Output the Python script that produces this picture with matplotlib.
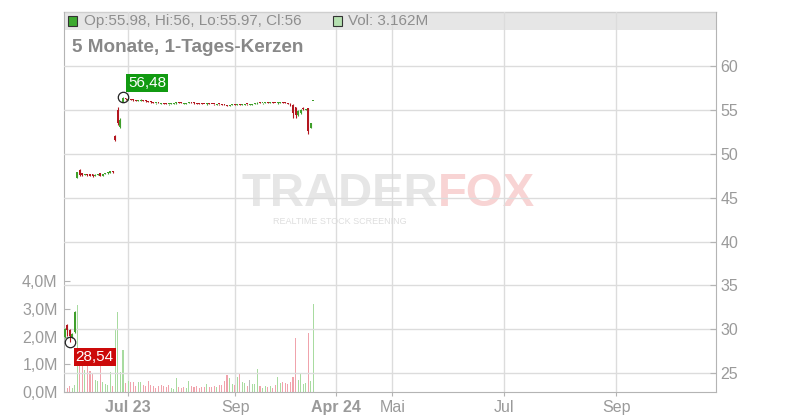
import matplotlib
matplotlib.use('Agg')
import matplotlib.pyplot as plt
from matplotlib.patches import Rectangle

plt.rcParams['font.family'] = ['Liberation Sans', 'DejaVu Sans']

# ---------------- data (daily candles, index = trading day) ----------------
opens = [
    29.10, 30.47, 29.90, 29.10, 29.70,
    47.30, 48.10, 47.80, 47.60, 47.70,
    47.70, 47.65, 47.50, 47.60, 47.80,
    47.50, 47.70, 47.80, 47.85, 48.00,
    52.00, 55.00, 53.10, 55.90, 56.30,
    56.18, 56.25, 56.20, 56.08, 56.02,
    56.05, 56.12, 56.08, 56.02, 55.95,
    55.88, 55.74, 55.85, 55.70, 55.80,
    55.76, 55.62, 55.66, 55.70, 55.74,
    55.88, 55.84, 55.70, 55.72, 55.76,
    55.88, 55.82, 55.78, 55.76, 55.74,
    55.70, 55.62, 55.72, 55.70, 55.68,
    55.60, 55.68, 55.66, 55.62, 55.58,
    55.48, 55.54, 55.63, 55.56, 55.66,
    55.56, 55.60, 55.68, 55.58, 55.60,
    55.64, 55.68, 55.84, 55.74, 55.78,
    55.86, 55.78, 55.86, 55.82, 55.74,
    55.82, 55.90, 55.86, 55.80, 55.70,
    55.60, 55.30, 54.40, 54.60, 55.25,
    55.00, 55.20, 52.95, 55.98]

closes = [
    30.10, 29.90, 29.20, 29.50, 32.00,
    47.90, 47.60, 47.55, 47.70, 47.55,
    47.50, 47.45, 47.60, 47.70, 47.50,
    47.70, 47.80, 47.90, 48.00, 47.90,
    51.60, 53.50, 53.90, 56.30, 56.20,
    56.25, 56.15, 56.10, 56.05, 56.10,
    56.15, 56.05, 56.00, 55.90, 55.85,
    55.82, 55.80, 55.78, 55.75, 55.72,
    55.70, 55.68, 55.72, 55.75, 55.85,
    55.80, 55.78, 55.75, 55.78, 55.85,
    55.80, 55.75, 55.72, 55.70, 55.68,
    55.65, 55.70, 55.67, 55.65, 55.62,
    55.65, 55.62, 55.60, 55.55, 55.50,
    55.55, 55.60, 55.57, 55.65, 55.58,
    55.62, 55.66, 55.62, 55.62, 55.66,
    55.70, 55.82, 55.78, 55.80, 55.84,
    55.80, 55.84, 55.80, 55.76, 55.85,
    55.88, 55.84, 55.80, 55.70, 55.50,
    54.60, 54.40, 54.90, 55.00, 55.05,
    55.10, 52.60, 53.50, 56.00]

highs = [
    30.20, 30.66, 30.00, 29.60, 32.10,
    47.95, 48.30, 47.85, 47.75, 47.75,
    47.72, 47.70, 47.65, 47.75, 47.85,
    47.75, 47.85, 47.95, 48.05, 48.05,
    52.10, 55.30, 54.10, 56.48, 56.35,
    56.30, 56.28, 56.22, 56.15, 56.15,
    56.20, 56.15, 56.10, 56.05, 56.00,
    55.92, 55.84, 55.88, 55.78, 55.84,
    55.80, 55.72, 55.76, 55.78, 55.88,
    55.92, 55.86, 55.78, 55.82, 55.88,
    55.92, 55.85, 55.80, 55.78, 55.76,
    55.72, 55.74, 55.75, 55.72, 55.70,
    55.68, 55.70, 55.68, 55.65, 55.60,
    55.58, 55.63, 55.66, 55.68, 55.68,
    55.65, 55.70, 55.70, 55.65, 55.68,
    55.73, 55.86, 55.87, 55.83, 55.87,
    55.88, 55.87, 55.88, 55.84, 55.88,
    55.91, 55.92, 55.88, 55.82, 55.75,
    55.70, 55.35, 54.95, 55.10, 55.30,
    55.15, 55.25, 53.55, 56.00]

lows = [
    29.00, 29.30, 28.54, 29.00, 29.60,
    47.20, 47.50, 47.50, 47.55, 47.50,
    47.45, 47.40, 47.45, 47.55, 47.45,
    47.45, 47.65, 47.75, 47.80, 47.85,
    51.50, 53.30, 52.90, 55.85, 56.15,
    56.15, 56.10, 56.05, 56.00, 56.00,
    56.02, 56.00, 55.95, 55.85, 55.80,
    55.78, 55.72, 55.75, 55.67, 55.70,
    55.66, 55.60, 55.64, 55.68, 55.72,
    55.77, 55.75, 55.68, 55.70, 55.74,
    55.77, 55.72, 55.70, 55.67, 55.65,
    55.62, 55.60, 55.64, 55.62, 55.60,
    55.58, 55.60, 55.58, 55.52, 55.47,
    55.45, 55.52, 55.55, 55.54, 55.55,
    55.54, 55.58, 55.60, 55.56, 55.58,
    55.62, 55.66, 55.75, 55.72, 55.76,
    55.77, 55.76, 55.78, 55.74, 55.72,
    55.80, 55.82, 55.78, 55.68, 55.45,
    54.10, 54.10, 54.35, 54.50, 55.00,
    54.95, 52.20, 52.90, 55.97]

volumes_m = [
    0.10, 0.15, 0.20, 0.15, 0.25,
    3.14, 1.30, 1.25, 0.80, 0.95,
    0.75, 0.68, 0.43, 0.40, 1.10,
    0.35, 0.30, 0.25, 0.72, 0.20,
    2.27, 2.90, 0.72, 1.52, 0.32,
    0.39, 0.35, 0.35, 0.23, 0.35,
    0.35, 0.25, 0.23, 0.41, 0.26,
    0.23, 0.16, 0.20, 0.24, 0.23,
    0.18, 0.26, 0.14, 0.12, 0.52,
    0.17, 0.13, 0.18, 0.16, 0.41,
    0.23, 0.18, 0.23, 0.16, 0.19,
    0.19, 0.30, 0.19, 0.17, 0.23,
    0.17, 0.26, 0.24, 0.41, 0.63,
    0.52, 0.30, 0.26, 0.55, 0.66,
    0.37, 0.34, 0.23, 0.45, 0.30,
    0.30, 0.84, 0.23, 0.16, 0.23,
    0.19, 0.23, 0.16, 0.26, 0.55,
    0.34, 0.37, 0.34, 0.30, 0.37,
    0.55, 1.96, 0.45, 0.66, 0.30,
    0.34, 2.14, 0.41, 3.162]

x_tick_pos = [25.1, 67.3, 107.1, 129.1, 173.2, 217.3]
x_tick_labels = ['Jul 23', 'Sep', 'Apr 24', 'Mai', 'Jul', 'Sep']
x_tick_bold = ['Jul 23', 'Apr 24']
price_ticks = [25, 30, 35, 40, 45, 50, 55, 60]
vol_ticks = [0, 1, 2, 3, 4]
vol_tick_labels = ['0,0M', '1,0M', '2,0M', '3,0M', '4,0M']

header_ohlc = 'Op:55.98, Hi:56, Lo:55.97, Cl:56'
header_vol = 'Vol: 3.162M'
title = '5 Monate, 1-Tages-Kerzen'
max_label = '56,48'
min_label = '28,54'

# ---------------- styling ----------------
C_UP = '#3f9f2b'
C_DN = '#b3161f'
V_UP = '#a8dba0'
V_DN = '#f0a3ac'
V_EQ = '#b8b8b8'
GRID = '#dcdcdc'
AXC = '#b4b4b4'
TXT = '#9a9a9a'

W, H = 800, 420
fig = plt.figure(figsize=(8, 4.2), dpi=100)
L, R, B, T = 64 / W, 716 / W, (H - 392) / H, (H - 12) / H
axv = fig.add_axes([L, B, R - L, T - B])
axp = axv.twinx()

n = len(closes)
xs = list(range(n))

# volume
vcols = []
for i in range(n):
    if i == 0 or closes[i] > closes[i - 1]:
        vcols.append(V_UP)
    elif closes[i] < closes[i - 1]:
        vcols.append(V_DN)
    else:
        vcols.append(V_EQ)
axv.bar(xs, volumes_m, width=0.42, color=vcols, zorder=2, linewidth=0)

# header band + watermark (behind)
axv.add_patch(Rectangle((0, (392 - 30) / 380), 1, 18 / 380, transform=axv.transAxes,
                        facecolor='#e6e6e6', edgecolor='none', zorder=0.5))
axv.plot([0, 1], [1, 1], transform=axv.transAxes, color='#cfcfcf', lw=1, zorder=0.6, clip_on=False)
axv.text(438 / W, 1 - 206 / H, 'TRADER', transform=fig.transFigure, ha='right', va='baseline',
         fontsize=34, fontweight='bold', color='#e6e6e6', zorder=0.6)
axv.text(438 / W, 1 - 206 / H, 'FOX', transform=fig.transFigure, ha='left', va='baseline',
         fontsize=34, fontweight='bold', color='#f8d4d4', zorder=0.6)
axv.text(340 / W, 1 - 221 / H, 'REALTIME STOCK SCREENING', transform=fig.transFigure,
         ha='center', va='center', fontsize=6.5, color='#dedede', zorder=0.6)

axv.set_ylim(0, 380 / 27.7)
axv.set_yticks(vol_ticks)
axv.set_yticklabels(vol_tick_labels)
axv.set_xlim(-0.24, 256.7)
axv.set_xticks(x_tick_pos)
axv.set_xticklabels(x_tick_labels)
for lab in axv.get_xticklabels():
    if lab.get_text() in x_tick_bold:
        lab.set_fontweight('bold')
axv.grid(axis='x', color=GRID, lw=1)
axv.tick_params(axis='x', direction='out', length=3, color=AXC, labelsize=11.5,
                labelcolor=TXT, pad=3)
axv.tick_params(axis='y', direction='in', length=4, color=AXC, labelsize=11.5,
                labelcolor=TXT, pad=4.5)
for s in ['left', 'right', 'bottom']:
    axv.spines[s].set_color(AXC)
axv.spines['top'].set_visible(False)

# price candles
axp.set_ylim(60 - (392 - 66) / 8.78, 60 + 54 / 8.78)
axp.set_yticks(price_ticks)
axp.set_yticklabels([str(t) for t in price_ticks])
axp.grid(axis='y', color=GRID, lw=1, zorder=1)
axp.set_axisbelow(True)
axp.tick_params(axis='y', direction='in', length=4, color=AXC, labelsize=11.5,
                labelcolor=TXT, pad=3)
for s in axp.spines.values():
    s.set_visible(False)

body_cols = [C_UP if c >= o else C_DN for o, c in zip(opens, closes)]
axp.vlines(xs, lows, highs, colors=body_cols, lw=0.8, zorder=3)
bottoms = [min(o, c) for o, c in zip(opens, closes)]
heights = [max(abs(c - o), 0.11) for o, c in zip(opens, closes)]
axp.bar(xs, heights, bottom=bottoms, width=0.75, color=body_cols, linewidth=0, zorder=4)

# max / min markers
imax = highs.index(max(highs))
imin = lows.index(min(lows))
axp.plot([imax], [highs[imax]], 'o', mfc='none', mec='#222222', ms=7.5, mew=0.9, zorder=5)
axp.plot([imin], [lows[imin]], 'o', mfc='none', mec='#222222', ms=7.5, mew=0.9, zorder=5)
axp.annotate(max_label, xy=(imax, highs[imax]), xytext=(5, 14), textcoords='offset pixels',
             ha='left', va='center', fontsize=11, color='white', zorder=6,
             bbox=dict(boxstyle='square,pad=0.12', fc='#119a11', ec='none'))
axp.annotate(min_label, xy=(imin, lows[imin]), xytext=(6, -15), textcoords='offset pixels',
             ha='left', va='center', fontsize=11, color='white', zorder=6,
             bbox=dict(boxstyle='square,pad=0.12', fc='#cc0a0a', ec='none'))

# header texts
fig.patches.append(Rectangle((68 / W, 1 - 25.5 / H), 9 / W, 9 / H, transform=fig.transFigure,
                             facecolor='#3eaa30', edgecolor='#333333', lw=0.8))
fig.text(84 / W, 1 - 21 / H, header_ohlc, ha='left', va='center', fontsize=11, color='#8e8e8e')
fig.patches.append(Rectangle((333 / W, 1 - 25.5 / H), 9 / W, 9 / H, transform=fig.transFigure,
                             facecolor='#b5e0b0', edgecolor='#333333', lw=0.8))
fig.text(348 / W, 1 - 21 / H, header_vol, ha='left', va='center', fontsize=11, color='#8e8e8e')
fig.text(72 / W, 1 - 47 / H, title, ha='left', va='center', fontsize=13.6, fontweight='bold',
         color='#888888')

fig.savefig('out.png', dpi=100)
